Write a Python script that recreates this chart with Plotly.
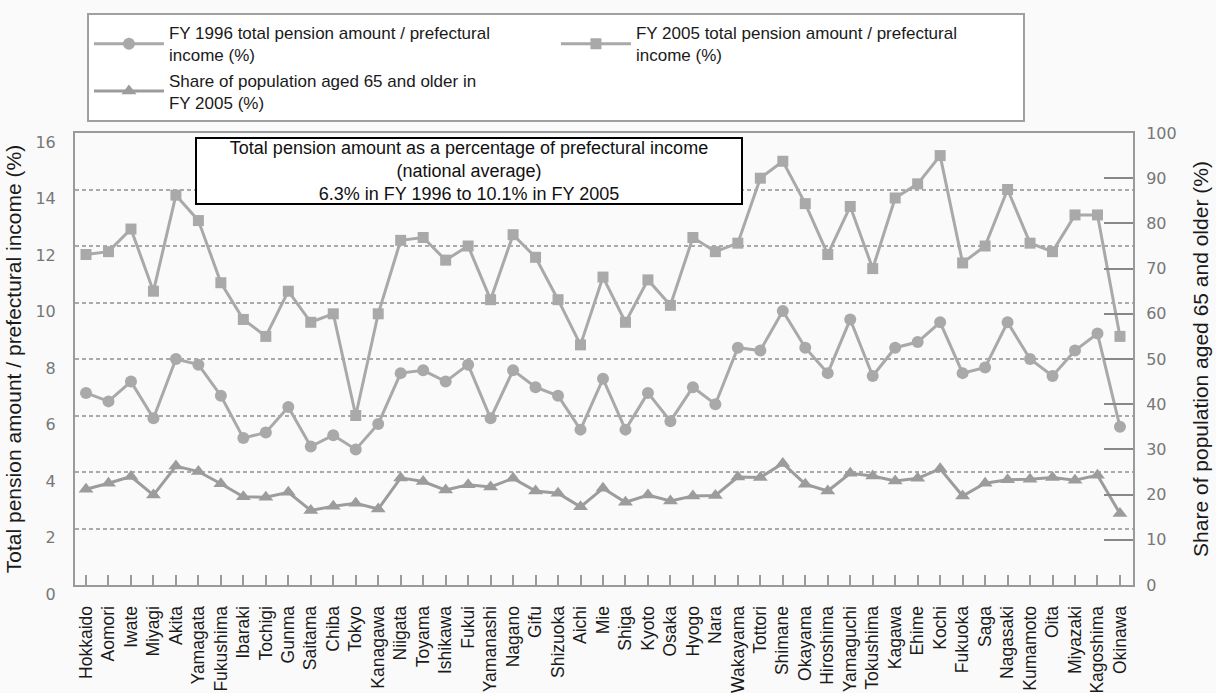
import plotly.graph_objects as go

# Prefectures in the standard north-to-south order
prefectures = [
    "Hokkaido", "Aomori", "Iwate", "Miyagi", "Akita", "Yamagata", "Fukushima",
    "Ibaraki", "Tochigi", "Gunma", "Saitama", "Chiba", "Tokyo", "Kanagawa",
    "Niigata", "Toyama", "Ishikawa", "Fukui", "Yamanashi", "Nagano", "Gifu",
    "Shizuoka", "Aichi", "Mie", "Shiga", "Kyoto", "Osaka", "Hyogo", "Nara",
    "Wakayama", "Tottori", "Shimane", "Okayama", "Hiroshima", "Yamaguchi",
    "Tokushima", "Kagawa", "Ehime", "Kochi", "Fukuoka", "Saga", "Nagasaki",
    "Kumamoto", "Oita", "Miyazaki", "Kagoshima", "Okinawa",
]

# Total pension amount / prefectural income (%), FY 1996
pension_1996 = [
    6.8, 6.5, 7.2, 5.9, 8.0, 7.8, 6.7,
    5.2, 5.4, 6.3, 4.9, 5.3, 4.8, 5.7,
    7.5, 7.6, 7.2, 7.8, 5.9, 7.6, 7.0,
    6.7, 5.5, 7.3, 5.5, 6.8, 5.8, 7.0, 6.4,
    8.4, 8.3, 9.7, 8.4, 7.5, 9.4,
    7.4, 8.4, 8.6, 9.3, 7.5, 7.7, 9.3,
    8.0, 7.4, 8.3, 8.9, 5.6,
]

# Total pension amount / prefectural income (%), FY 2005
pension_2005 = [
    11.7, 11.8, 12.6, 10.4, 13.8, 12.9, 10.7,
    9.4, 8.8, 10.4, 9.3, 9.6, 6.0, 9.6,
    12.2, 12.3, 11.5, 12.0, 10.1, 12.4, 11.6,
    10.1, 8.5, 10.9, 9.3, 10.8, 9.9, 12.3, 11.8,
    12.1, 14.4, 15.0, 13.5, 11.7, 13.4,
    11.2, 13.7, 14.2, 15.2, 11.4, 12.0, 14.0,
    12.1, 11.8, 13.1, 13.1, 8.8,
]

# Share of population aged 65 and older (%), FY 2005
aged_share_2005 = [
    21.2, 22.5, 24.0, 19.9, 26.3, 25.1, 22.4,
    19.5, 19.4, 20.5, 16.5, 17.4, 18.1, 16.8,
    23.7, 22.9, 21.0, 22.2, 21.7, 23.6, 20.8,
    20.3, 17.3, 21.4, 18.3, 19.9, 18.6, 19.7, 19.8,
    23.9, 23.8, 26.9, 22.3, 20.8, 24.7,
    24.1, 23.0, 23.6, 25.7, 19.7, 22.5, 23.3,
    23.4, 23.8, 23.2, 24.3, 15.8,
]

series_names = [
    "FY 1996 total pension amount / prefectural<br>income (%)",
    "FY 2005 total pension amount / prefectural<br>income (%)",
    "Share of population aged 65 and older in<br>FY 2005 (%)",
]

note_text = (
    "Total pension amount as a percentage of prefectural income<br>"
    "(national average)<br>"
    "6.3% in FY 1996 to 10.1% in FY 2005"
)

left_title = "Total pension amount / prefectural income (%)"
right_title = "Share of population aged 65 and older (%)"

LINE_GREY = "#a9a9a9"
FRAME_GREY = "#9a9a9a"
TEXT_FONT = "Liberation Sans, Arial, sans-serif"

fig = go.Figure()

fig.add_trace(go.Scatter(
    x=prefectures, y=pension_1996, name=series_names[0], mode="lines+markers",
    line=dict(color=LINE_GREY, width=3),
    marker=dict(symbol="circle", size=12, color=LINE_GREY),
))
fig.add_trace(go.Scatter(
    x=prefectures, y=pension_2005, name=series_names[1], mode="lines+markers",
    line=dict(color=LINE_GREY, width=3),
    marker=dict(symbol="square", size=11, color=LINE_GREY),
))
fig.add_trace(go.Scatter(
    x=prefectures, y=aged_share_2005, name=series_names[2], mode="lines+markers",
    yaxis="y2",
    line=dict(color="#9c9c9c", width=3),
    marker=dict(symbol="triangle-up", size=13, color="#9c9c9c"),
))

fig.update_layout(
    width=1216, height=693,
    margin=dict(l=75, r=83, t=133, b=108, autoexpand=False),
    paper_bgcolor="#fafafa",
    plot_bgcolor="#fafafa",
    font=dict(family=TEXT_FONT, color="#1a1a1a"),
    showlegend=True,
    legend=dict(
        orientation="h",
        x=0.0113, xanchor="left",
        y=1.265, yanchor="top",
        bgcolor="#ffffff",
        bordercolor="#a0a0a0", borderwidth=2,
        font=dict(size=17, family=TEXT_FONT, color="#1a1a1a"),
        itemwidth=70,
        entrywidth=382, entrywidthmode="pixels",
        tracegroupgap=0,
        itemclick=False,
    ),
    xaxis=dict(
        type="category",
        range=[-0.49, 46.58],
        automargin=False,
        showline=True, linecolor=FRAME_GREY, linewidth=2, mirror=True,
        ticks="inside", ticklen=10, tickwidth=1.5, tickcolor=FRAME_GREY,
        tickangle=-90,
        tickfont=dict(size=17.5, family=TEXT_FONT, color="#1a1a1a"),
        ticklabelstandoff=12,
        showgrid=False, zeroline=False,
    ),
    yaxis=dict(
        range=[0, 16], dtick=2,
        automargin=False,
        showline=True, linecolor=FRAME_GREY, linewidth=2,
        showgrid=True, gridcolor="#aaaaaa", gridwidth=1.5, griddash="4px,3px",
        zeroline=False, ticks="",
        tickfont=dict(size=16, family="DejaVu Sans", color="#777777"),
        ticklabelstandoff=14, ticklabelshift=9,
        title=dict(text=left_title, font=dict(size=21, family=TEXT_FONT, color="#1a1a1a"),
                   standoff=8),
    ),
    yaxis2=dict(
        overlaying="y", side="right",
        range=[0, 100], dtick=10,
        automargin=False,
        showline=True, linecolor=FRAME_GREY, linewidth=2,
        ticks="inside", ticklen=29, tickwidth=1.5, tickcolor="#888888",
        showgrid=False, zeroline=False,
        tickfont=dict(size=16, family="DejaVu Sans", color="#777777"),
        ticklabelstandoff=8,
        title=dict(text=right_title, font=dict(size=21, family=TEXT_FONT, color="#1a1a1a"),
                   standoff=18),
    ),
)

fig.add_annotation(
    xref="paper", yref="paper",
    x=0.3724, y=0.991, xanchor="center", yanchor="top",
    text=note_text, showarrow=False, align="center",
    font=dict(size=18, family=TEXT_FONT, color="#111111"),
    bgcolor="#ffffff", bordercolor="#000000", borderwidth=2, borderpad=0,
    width=544, height=64,
)

fig.write_html("out.html")
